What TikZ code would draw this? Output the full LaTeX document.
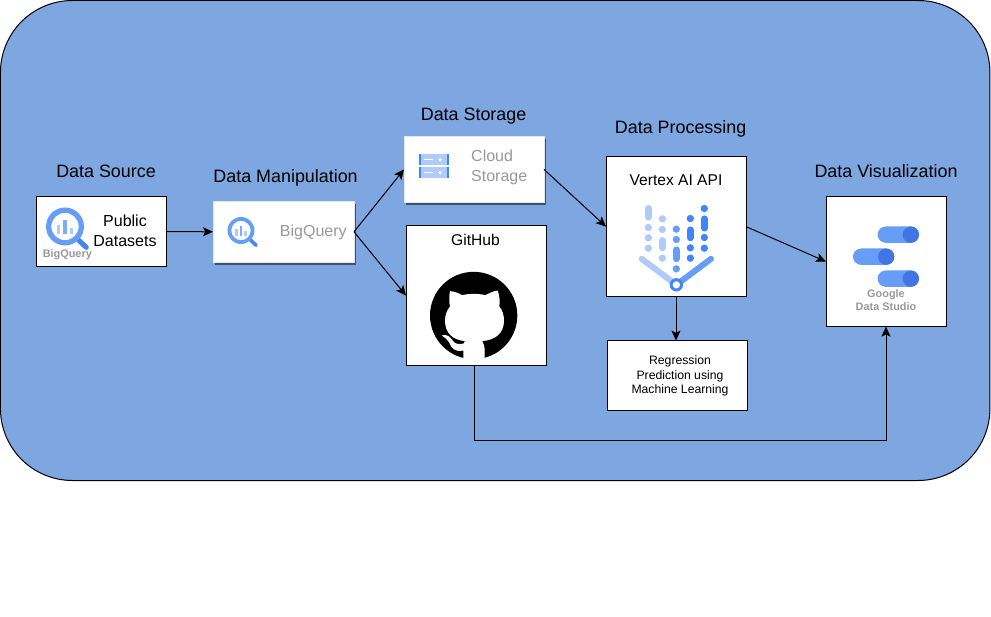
\documentclass[tikz,border=0pt]{standalone}
\usepackage{fontspec}
\setmainfont{Liberation Sans}
\usetikzlibrary{arrows.meta,shadows}
\definecolor{bgblue}{HTML}{7EA6E0}
\definecolor{gl}{HTML}{AECBFA}
\definecolor{gm}{HTML}{669DF6}
\definecolor{gd}{HTML}{4285F4}
\definecolor{gs}{HTML}{4175E5}
\definecolor{lbl}{HTML}{999999}
\newcommand{\fs}[1]{\fontsize{#1}{#1}\selectfont}
\newcommand{\bqicon}[4]{%
 \begin{scope}[shift={(#1,#2)},scale=#3]
  \draw[gd,line width=#4pt,line cap=round] (0.72,0.72) -- (1.12,1.1);
  \fill[gm,even odd rule] (0,0) circle (1) (0,0) circle (0.72);
  \fill[gl] (-0.44,-0.1) rectangle (-0.25,0.38);
  \fill[gm!70!gl] (-0.11,-0.35) rectangle (0.1,0.38);
  \fill[gl] (0.25,0.06) rectangle (0.44,0.38);
 \end{scope}}
\newcommand{\pill}[5]{\draw[#1,line width=#5pt,line cap=round] (#2,#3) -- (#2,#4);}
\newcommand{\dotc}[3]{\fill[#1] (#2,#3) circle (11);}
\newcommand{\studiopill}[2]{%
 \fill[gm,rounded corners=8.1pt] (#1,#2) rectangle ++(124,49);
 \fill[gs] (#1+99.5,#2+24.5) circle (24.5);}
\tikzset{
 boxn/.style={draw=black,fill=white,line width=1pt,inner sep=0pt,outer sep=0pt},
 card/.style={draw=black!10,fill=white,line width=0.8pt,inner sep=0pt,outer sep=0pt,
   general shadow={shadow xshift=2.2pt,shadow yshift=-2.6pt,fill=black,opacity=0.5}},
 ttl/.style={inner sep=0pt,font=\fs{17.9}},
 body/.style={inner sep=0pt,font=\fs{16},align=center},
 graylbl/.style={inner sep=0pt,font=\fs{16},text=lbl},
 smalllbl/.style={inner sep=0pt,font=\bfseries\fs{10.9},text=lbl,align=center},
 conn/.style={draw=black,line width=1pt,-{Stealth[length=10pt,width=9pt,inset=2.2pt]}},
}
\begin{document}
\begin{tikzpicture}[x=1pt,y=-1pt]
\useasboundingbox (0,0) rectangle (991,617);
\fill[white] (0,0) rectangle (991,617);
\node[draw=black,fill=bgblue,line width=1pt,rounded corners=72pt,minimum width=989.5pt,minimum height=480pt,inner sep=0pt,outer sep=0pt] (panel) at (495.2,240.5) {};

\node[boxn,minimum width=130.5pt,minimum height=70pt] (pub) at (101.7,231.6) {};
\node[card,minimum width=141pt,minimum height=60.5pt] (bq) at (283.5,231.8) {};
\node[card,minimum width=140pt,minimum height=65.5pt] (cloud) at (474,169.4) {};
\node[boxn,minimum width=140pt,minimum height=140pt] (github) at (476,295.6) {};
\node[boxn,minimum width=140pt,minimum height=140pt] (vertex) at (676,226.6) {};
\node[boxn,minimum width=140pt,minimum height=70pt] (reg) at (677,375.6) {};
\node[boxn,minimum width=120pt,minimum height=130pt] (studio) at (886,261.6) {};

\node[ttl] (t1) at (106,171) {Data Source};
\node[ttl] (t2) at (285.6,177.5) {Data Manipulation};
\node[ttl] (t3) at (473.6,116.5) {Data Storage};
\node[ttl] (t4) at (680.6,128.5) {Data Processing};
\node[ttl] (t5) at (886,171.3) {Data Visualization};

\node[body] (pubt) at (125,231) {Public\\[4pt]Datasets};
\node[smalllbl] (pubs) at (67.3,255) {BigQuery};
\node[graylbl] (bqt) at (313.3,232) {BigQuery};
\node[graylbl,align=left,anchor=west] (cloudt) at (471,167) {Cloud\\[4pt]Storage};
\node[body,font=\fs{15.6}] (gitt) at (475.5,240.3) {GitHub};
\node[body,font=\fs{15.6}] (vert) at (676,180.3) {Vertex AI API};
\node[body,font=\fs{12.2}] (regt) at (680,376) {Regression\\[2.2pt]Prediction using\\[2.2pt]Machine Learning};
\node[smalllbl] (stut) at (886,300) {Google\\[2.2pt]Data Studio};

% BigQuery icons
\bqicon{65}{226.5}{19}{5}
\bqicon{241}{230.5}{13.5}{3.6}

% Cloud Storage icon
\foreach \yy in {154.5,167.5} {
  \fill[gl] (419,\yy) rectangle (448.5,\yy+10.5);
  \fill[gd] (419,\yy) rectangle (420.5,\yy+10.5);
  \fill[gd] (447,\yy) rectangle (448.5,\yy+10.5);
  \draw[white,line width=1pt] (424,\yy+5.2) -- (433,\yy+5.2);
  \fill[white] (440,\yy+5.2) circle (1.8);
}

% GitHub logo
\begin{scope}[shift={(400,130.5)},scale=0.33333]
 \fill[black] (221,555) circle (131);
 \fill[white] (150,482) .. controls (165,483) and (175,488) .. (187,494)
  .. controls (205,489) and (238,489) .. (256,494)
  .. controls (268,488) and (280,482) .. (293,480)
  .. controls (299,495) and (300,515) .. (298,528)
  .. controls (308,540) and (312,555) .. (312,570)
  .. controls (312,610) and (285,628) .. (247,632)
  .. controls (252,640) and (254,650) .. (254,662)
  -- (254,687) .. controls (232,690) and (210,690) .. (190,687)
  -- (190,660) .. controls (165,665) and (155,655) .. (147,635)
  .. controls (143,627) and (135,622) .. (125,615)
  .. controls (140,610) and (150,618) .. (158,630)
  .. controls (165,642) and (178,642) .. (191,639)
  .. controls (191,636) and (193,634) .. (195,632)
  .. controls (160,628) and (135,610) .. (135,570)
  .. controls (135,555) and (140,540) .. (150,528)
  .. controls (147,515) and (147,495) .. (150,482) -- cycle;
\end{scope}

% Vertex AI icon
\begin{scope}[shift={(600,150.5)},scale=0.33333]
 \draw[gl,line width=6pt,line cap=round] (125,325) -- (229,403);
 \draw[gm,line width=6pt,line cap=round] (333,325) -- (229,403);
 \pill{gl}{145}{174}{200}{6.8}
 \dotc{gl}{145}{231}\dotc{gl}{145}{262}\dotc{gl}{145}{293}
 \dotc{gl}{187}{205}\dotc{gl}{187}{237}
 \pill{gl}{187}{270}{292}{6.8}
 \dotc{gl}{187}{323}
 \dotc{gm}{229}{236}\dotc{gm}{229}{267}
 \pill{gm}{229}{298}{325}{6.8}
 \dotc{gm}{229}{355}
 \dotc{gd}{271}{204}
 \pill{gd}{271}{238}{262}{6.8}
 \dotc{gd}{271}{292}\dotc{gd}{271}{323}
 \dotc{gd}{313}{174}
 \pill{gd}{313}{205}{233}{6.8}
 \dotc{gd}{313}{261}\dotc{gd}{313}{293}
 \fill[gd] (229,403) circle (20);
 \fill[white] (229,403) circle (11);
\end{scope}

% Data Studio icon
\begin{scope}[shift={(820,190.5)},scale=0.33333]
 \studiopill{173}{108}
 \studiopill{99}{174}
 \studiopill{173}{240}
\end{scope}

% Connectors
\draw[conn] (pub.east) -- (bq.west);
\draw[conn] (bq.east) -- (cloud.west);
\draw[conn] (bq.east) -- (github.west);
\draw[conn] (cloud.east) -- (vertex.west);
\draw[conn] (vertex.east) -- (studio.west);
\draw[conn] (vertex.south) -- (reg.north -| vertex.south);
\coordinate (gitout) at ([xshift=-2pt]github.south);
\coordinate (bendy) at (474,440.5);
\draw[conn] (gitout) -- (bendy) -| (studio.south);
\end{tikzpicture}
\end{document}
